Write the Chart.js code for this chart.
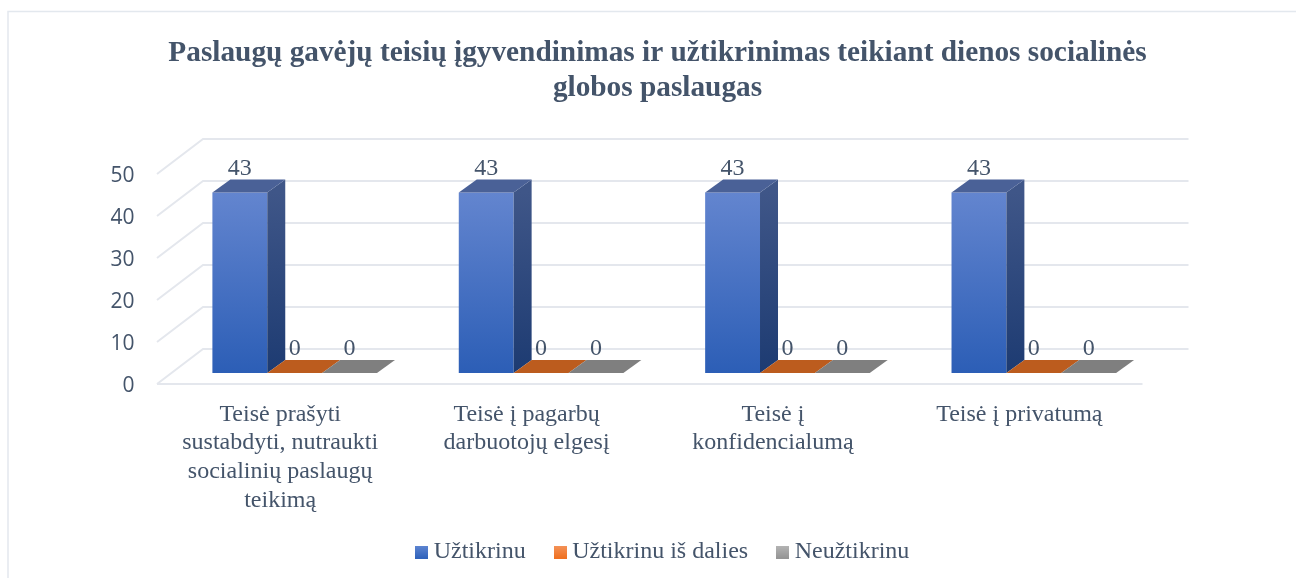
<!DOCTYPE html>
<html><head><meta charset="utf-8">
<style>html,body{margin:0;padding:0;background:#fff}#w{width:1296px;height:578px;position:relative}</style>
<script src="https://cdn.jsdelivr.net/npm/chart.js@4"></script>
</head><body><div id="w"><canvas id="c" width="1296" height="578"></canvas></div>
<script>
const categories=[["Teisė prašyti","sustabdyti, nutraukti","socialinių paslaugų","teikimą"],["Teisė į pagarbų","darbuotojų elgesį"],["Teisė į","konfidencialumą"],["Teisė į privatumą"]];
const seriesNames=["Užtikrinu","Užtikrinu iš dalies","Neužtikrinu"];
const uztikrinu=[43,43,43,43];
const isDalies=[0,0,0,0];
const neuztikrinu=[0,0,0,0];
const yTicks=[0,10,20,30,40,50];
const textColor="#44546a",gridColor="#e4e7ed";
const serif="'Liberation Serif'";
function swatch(a,b){const k=document.createElement('canvas');k.width=13;k.height=13;const x=k.getContext('2d');const g=x.createLinearGradient(0,0,0,13);g.addColorStop(0,a);g.addColorStop(1,b);x.fillStyle=g;x.fillRect(0,0,13,13);return k;}
const swatches=[swatch('#5f86d2','#2f62bb'),swatch('#f4935a','#f0701f'),swatch('#b5b5b5','#949494')];
const faces=[
 {front:['#6385cf','#2c5eb6'],side:['#3f5688','#1d3b72'],top:'#4a6197'},
 {front:['#bc5c1e','#bc5c1e'],side:['#8a4416','#8a4416'],top:'#bc5c1e'},
 {front:['#7f7f7f','#7f7f7f'],side:['#5f5f5f','#5f5f5f'],top:'#7f7f7f'}];
const wall={dx:31.5,dy:-24,fx:-14.5,fy:11};
const bar3d={dx:18,dy:-13};
const legendShift={x:8,y:-7.5};
const scene={
 id:'scene',
 afterLayout(c){const l=c.legend;l.left+=legendShift.x;l.right+=legendShift.x;l.top+=legendShift.y;l.bottom+=legendShift.y;},
 beforeDraw(c){const x=c.ctx;x.save();x.strokeStyle='#e3e8ee';x.lineWidth=1.5;x.beginPath();x.moveTo(8,578);x.lineTo(8,11.5);x.lineTo(1296,11.5);x.stroke();x.restore();},
 beforeDatasetsDraw(c){
  const x=c.ctx,ys=c.scales.y,a=c.chartArea;
  x.save();x.strokeStyle=gridColor;x.lineWidth=2;
  yTicks.forEach(v=>{const p=ys.getPixelForValue(v);
   x.beginPath();x.moveTo(a.left+wall.fx,p+wall.fy);x.lineTo(a.left+wall.dx,p+wall.dy);x.lineTo(a.right+wall.dx,p+wall.dy);x.stroke();});
  const p0=ys.getPixelForValue(0);
  x.beginPath();x.moveTo(a.left+wall.fx,p0+wall.fy);x.lineTo(a.right+wall.fx,p0+wall.fy);x.stroke();
  x.restore();
 },
 afterDatasetsDraw(c){
  const x=c.ctx,ys=c.scales.y,base=ys.getPixelForValue(0);
  x.save();
  c.data.datasets.forEach((d,i)=>{const f=faces[i];
   c.getDatasetMeta(i).data.forEach(b=>{
    const L=b.x-b.width/2,R=b.x+b.width/2,T=b.y;
    if(base-T>0.5){const g=x.createLinearGradient(0,T,0,base);g.addColorStop(0,f.side[0]);g.addColorStop(1,f.side[1]);
     x.fillStyle=g;x.beginPath();x.moveTo(R,T);x.lineTo(R+bar3d.dx,T+bar3d.dy);x.lineTo(R+bar3d.dx,base+bar3d.dy);x.lineTo(R,base);x.closePath();x.fill();}
    x.fillStyle=f.top;x.beginPath();x.moveTo(L,T);x.lineTo(L+bar3d.dx,T+bar3d.dy);x.lineTo(R+bar3d.dx,T+bar3d.dy);x.lineTo(R,T);x.closePath();x.fill();
   });});
  x.fillStyle=textColor;x.font="24px "+serif;x.textAlign='center';x.textBaseline='middle';
  c.data.datasets.forEach((d,i)=>{c.getDatasetMeta(i).data.forEach((b,j)=>{x.fillText(String(d.data[j]),b.x,b.y-24);});});
  x.restore();
 }
};
function frontFill(i){return ctx=>{const c=ctx.chart,ys=c.scales.y;if(!ys||!c.chartArea)return faces[i].front[0];
 const t=ys.getPixelForValue(43),b=ys.getPixelForValue(0);if(!isFinite(t)||!isFinite(b))return faces[i].front[0];
 const g=c.ctx.createLinearGradient(0,t,0,b);g.addColorStop(0,faces[i].front[0]);g.addColorStop(1,faces[i].front[1]);return g;};}
new Chart(document.getElementById('c'),{
 type:'bar',
 data:{labels:categories,datasets:[
  {label:seriesNames[0],data:uztikrinu,backgroundColor:frontFill(0),pointStyle:swatches[0]},
  {label:seriesNames[1],data:isDalies,backgroundColor:frontFill(1),pointStyle:swatches[1]},
  {label:seriesNames[2],data:neuztikrinu,backgroundColor:frontFill(2),pointStyle:swatches[2]}]},
 plugins:[scene],
 options:{responsive:false,animation:false,
  layout:{padding:{left:19,right:0,top:0,bottom:-3.5}},
  datasets:{bar:{barPercentage:1,categoryPercentage:0.668,borderWidth:0}},
  plugins:{tooltip:{enabled:false},
   title:{display:true,text:["Paslaugų gavėjų teisių įgyvendinimas ir užtikrinimas teikiant dienos socialinės","globos paslaugas"],color:textColor,font:{family:serif,size:29.3,weight:'bold',lineHeight:35/29.3},padding:{top:35.5,bottom:57.5}},
   legend:{display:true,position:'bottom',onClick:null,labels:{usePointStyle:true,pointStyleWidth:0.01,boxHeight:13,padding:34.5,color:textColor,font:{family:serif,size:24}}}
  },
  scales:{
   x:{grid:{display:false},border:{display:false},afterFit(s){s.height=140;},
      ticks:{color:textColor,font:{family:serif,size:24},padding:19,labelOffset:-14.5,autoSkip:false,maxRotation:0,minRotation:0}},
   y:{min:0,max:50,grid:{display:false},border:{display:false},afterFit(s){s.width=152.5;},
      afterBuildTicks(s){s.ticks=yTicks.map(v=>({value:v}));},
      ticks:{color:textColor,font:{family:"'Open Sans'",size:21},padding:29,labelOffset:13}},
   yRightSpace:{position:'right',min:0,max:50,grid:{display:false},border:{display:false},ticks:{display:false},afterFit(s){s.width=139;}}
  }
 }
});
</script></body></html>
